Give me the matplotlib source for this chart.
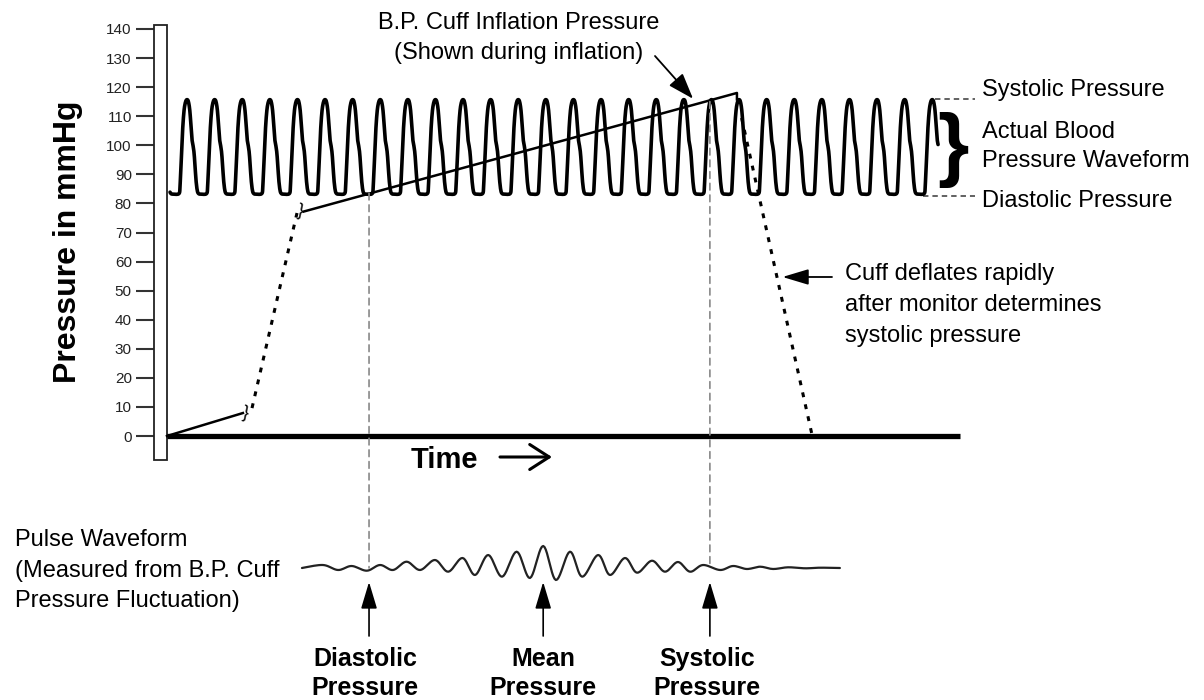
import numpy as np
import matplotlib
matplotlib.use("Agg")
import matplotlib.pyplot as plt
from matplotlib.patches import Rectangle, ConnectionPatch

plt.rcParams['font.family'] = ['Liberation Sans', 'DejaVu Sans']

# ---------------- data (time in heart beats, pressure in mmHg) ----------------
Y_TICKS = [0, 10, 20, 30, 40, 50, 60, 70, 80, 90, 100, 110, 120, 130, 140]

# one beat of the arterial waveform: phase (beats, relative to the peak) -> mmHg
BEAT_PHASE = [-0.290, -0.254, -0.217, -0.181, -0.145, -0.101, -0.051, 0.0,
              0.051, 0.101, 0.145, 0.181, 0.217, 0.254, 0.290, 0.326, 0.370,
              0.417, 0.507, 0.616]
BEAT_MMHG = [83.4, 86.0, 93.0, 101.0, 107.5, 112.5, 115.0, 115.7,
             115.0, 112.0, 106.5, 102.0, 100.0, 97.5, 93.0, 88.0, 84.5,
             83.4, 83.2, 83.3]
FIRST_PEAK = 0.725     # beats
N_BEATS = 28
WAVE_START = 0.11
WAVE_END = 27.94

# cuff pressure
CUFF_SLOW_T = [0.0, 2.75]
CUFF_SLOW_P = [0.0, 7.9]
CUFF_FAST_T = [3.08, 4.71]
CUFF_FAST_P = [9.6, 76.7]
CUFF_INFL_T = [4.95, 20.65, 20.65]
CUFF_INFL_P = [77.2, 118.0, 115.8]
CUFF_DEFL_T = [20.82, 23.38]
CUFF_DEFL_P = [109.4, 0.0]

# pulse waveform (cuff pressure fluctuation, relative units)
PULSE_T = [4.89, 5.65, 6.20, 6.69, 7.24, 7.72, 8.19, 8.68, 9.17, 9.71, 10.19,
           10.71, 11.16, 11.64, 12.14, 12.67, 13.15, 13.63, 14.09, 14.60,
           15.04, 15.62, 16.05, 16.59, 17.03, 17.57, 18.04, 18.51, 18.95,
           19.42, 20.04, 20.51, 21.01, 21.49, 21.96, 22.50, 23.12, 23.66, 24.38]
PULSE_V = [0, 3, -2, 2, -2.7, 3, -2, 6.3, -2, 8, -3.7, 10, -7, 13, -8.7, 16.3,
           -10, 22, -12, 16.3, -8.7, 13, -7, 10, -4.7, 7.3, -3.7, 6, -3.7, 3,
           -2, 2, -1, 1.3, -1, 0.7, -0.3, 0.3, 0]

DIASTOLIC_T, MEAN_T, SYSTOLIC_T = 7.32, 13.63, 19.67
SYSTOLIC_P, DIASTOLIC_P = 115.8, 82.7
MARK_LABELS = ["Diastolic\nPressure", "Mean\nPressure", "Systolic\nPressure"]


def catmull(xs, ys, n=10):
    p = np.column_stack([xs, ys]).astype(float)
    p = np.vstack([p[0], p, p[-1]])
    out = []
    s = np.linspace(0, 1, n, endpoint=False)[:, None]
    for i in range(1, len(p) - 2):
        p0, p1, p2, p3 = p[i - 1], p[i], p[i + 1], p[i + 2]
        seg = 0.5 * ((2 * p1) + (-p0 + p2) * s + (2 * p0 - 5 * p1 + 4 * p2 - p3) * s ** 2
                     + (-p0 + 3 * p1 - 3 * p2 + p3) * s ** 3)
        out.append(seg)
    out.append(p[-2][None, :])
    out = np.vstack(out)
    return out[:, 0], out[:, 1]


# ---------------- figure ----------------
W, H = 1204, 700
fig = plt.figure(figsize=(W / 100, H / 100), dpi=100)
PXB = 27.6  # pixels per beat (layout)
X0, XR = 167, 960
ax = fig.add_axes([X0 / W, (H - 436) / H, (XR - X0) / W, 407 / H])
xmax = (XR - X0) / PXB
ax.set_xlim(0, xmax)
ax.set_ylim(0, 140)
ax.set_xticks([])
ax.set_yticks(Y_TICKS)
for s in ['top', 'right', 'bottom']:
    ax.spines[s].set_visible(False)
ax.spines['left'].set_position(('outward', 13 * 0.72))
ax.spines['left'].set_visible(False)
ax.tick_params(axis='y', direction='out', length=13, width=1.5, color='#333333',
               labelsize=11, labelcolor='#222222', pad=3)
ax.patch.set_alpha(0)

bar_w = 13 / PXB
ax.add_patch(Rectangle((-bar_w, -8.3), bar_w, 149.7, transform=ax.transData,
                       clip_on=False, fc='white', ec='#222222', lw=1.3, zorder=3))

# time axis
ax.plot([0, xmax], [0, 0], color='black', lw=3.8, solid_capstyle='butt',
        clip_on=False, zorder=4)

# arterial waveform
kt, kp = [], []
for k in range(-1, N_BEATS):
    for ph, v in zip(BEAT_PHASE[:-1], BEAT_MMHG[:-1]):
        kt.append(FIRST_PEAK + k + ph)
        kp.append(v)
wt, wp = catmull(kt, kp, n=8)
m = (wt >= WAVE_START) & (wt <= WAVE_END)
ax.plot(wt[m], wp[m], color='black', lw=2.6, solid_capstyle='round',
        solid_joinstyle='round', clip_on=False, zorder=5)

# cuff pressure
dots = (0, (1.6, 2.4))
ax.plot(CUFF_SLOW_T, CUFF_SLOW_P, color='black', lw=1.8, clip_on=False, zorder=5)
ax.plot(CUFF_FAST_T, CUFF_FAST_P, color='black', lw=2.2, ls=dots, clip_on=False)
ax.plot(CUFF_INFL_T, CUFF_INFL_P, color='black', lw=1.8, clip_on=False, zorder=5)
ax.plot(CUFF_DEFL_T, CUFF_DEFL_P, color='black', lw=2.2, ls=dots, clip_on=False)
ax.text(CUFF_SLOW_T[1] + 0.1, CUFF_SLOW_P[1], '}', fontsize=13, rotation=-12,
        ha='center', va='center')
ax.text(CUFF_INFL_T[0] - 0.1, CUFF_INFL_P[0], '}', fontsize=13, rotation=-12,
        ha='center', va='center')

# systolic / diastolic reference lines on the right
dash_r = dict(color='#555555', lw=1.3, ls=(0, (3, 2.2)), clip_on=False)
ax.plot([27.83, 29.28], [SYSTOLIC_P, SYSTOLIC_P], **dash_r)
ax.plot([27.39, 29.28], [DIASTOLIC_P, DIASTOLIC_P], **dash_r)

# pulse waveform axes
pax = fig.add_axes([X0 / W, (H - 620) / H, (XR - X0) / W, 100 / H])
pax.set_xlim(0, xmax)
pax.set_ylim(-52, 48)
pax.axis('off')
pt, pv = catmull(PULSE_T, PULSE_V, n=10)
pax.plot(pt, pv, color='#222222', lw=1.6, solid_capstyle='round')

# dashed guides from the waveform to the pulse trace
for t, p in [(DIASTOLIC_T, 83.5), (SYSTOLIC_T, 115.0)]:
    con = ConnectionPatch(xyA=(t, p), coordsA=ax.transData, xyB=(t, 0),
                          coordsB=pax.transData, color='#888888', lw=1.2,
                          ls=(0, (4, 3)), zorder=1)
    fig.add_artist(con)

# up arrows
for t in [DIASTOLIC_T, MEAN_T, SYSTOLIC_T]:
    pax.annotate('', xy=(t, -14), xytext=(t, -68), annotation_clip=False,
                 arrowprops=dict(arrowstyle='-|>,head_length=1.1,head_width=0.33',
                                 mutation_scale=15, lw=1.2, color='black',
                                 shrinkA=0, shrinkB=0))


def T(x, y, s, **kw):
    fig.text(x / W, 1 - y / H, s, **kw)


bold_kw = dict(fontsize=18, fontweight='bold', ha='center', va='baseline')
for cx, lab in zip([365, 543, 707], MARK_LABELS):
    l1, l2 = lab.split('\n')
    T(cx, 666, l1, **bold_kw)
    T(cx, 695, l2, **bold_kw)

norm = dict(fontsize=17, va='baseline')
T(519, 29, 'B.P. Cuff Inflation Pressure', ha='center', **norm)
T(519, 59, '(Shown during inflation)', ha='center', **norm)
T(982, 96, 'Systolic Pressure', ha='left', **norm)
T(982, 138, 'Actual Blood', ha='left', **norm)
T(982, 167, 'Pressure Waveform', ha='left', **norm)
T(982, 207, 'Diastolic Pressure', ha='left', **norm)
T(845, 280, 'Cuff deflates rapidly', ha='left', **norm)
T(845, 311, 'after monitor determines', ha='left', **norm)
T(845, 342, 'systolic pressure', ha='left', **norm)
T(15, 546, 'Pulse Waveform', ha='left', **norm)
T(15, 577, '(Measured from B.P. Cuff', ha='left', **norm)
T(15, 607, 'Pressure Fluctuation)', ha='left', **norm)

T(68, 242, 'Pressure in mmHg', rotation=90, fontsize=23, fontweight='bold',
  ha='center', va='center')
T(411, 468, 'Time', ha='left', va='baseline', fontsize=21, fontweight='bold')
T(953, 150, '}', ha='center', va='center', fontsize=58, fontweight='bold')

# annotation arrows
ax.annotate('', xy=(19.06, 116.0), xycoords='data', xytext=(655, H - 56),
            textcoords='figure pixels', annotation_clip=False,
            arrowprops=dict(arrowstyle='-|>,head_length=1.0,head_width=0.35',
                            mutation_scale=16, lw=1.3, color='black',
                            shrinkA=0, shrinkB=0))
ax.annotate('', xy=(22.3, 54.7), xycoords='data', xytext=(832, H - 277),
            textcoords='figure pixels', annotation_clip=False,
            arrowprops=dict(arrowstyle='-|>,head_length=1.0,head_width=0.3',
                            mutation_scale=16, lw=1.3, color='black',
                            shrinkA=0, shrinkB=0))
ax.annotate('', xy=(552, H - 457), xycoords='figure pixels',
            xytext=(500, H - 457), textcoords='figure pixels',
            arrowprops=dict(arrowstyle='->,head_length=0.7,head_width=0.45',
                            mutation_scale=20, lw=2.2, color='black',
                            shrinkA=0, shrinkB=0))

fig.savefig('out.png', dpi=100)
